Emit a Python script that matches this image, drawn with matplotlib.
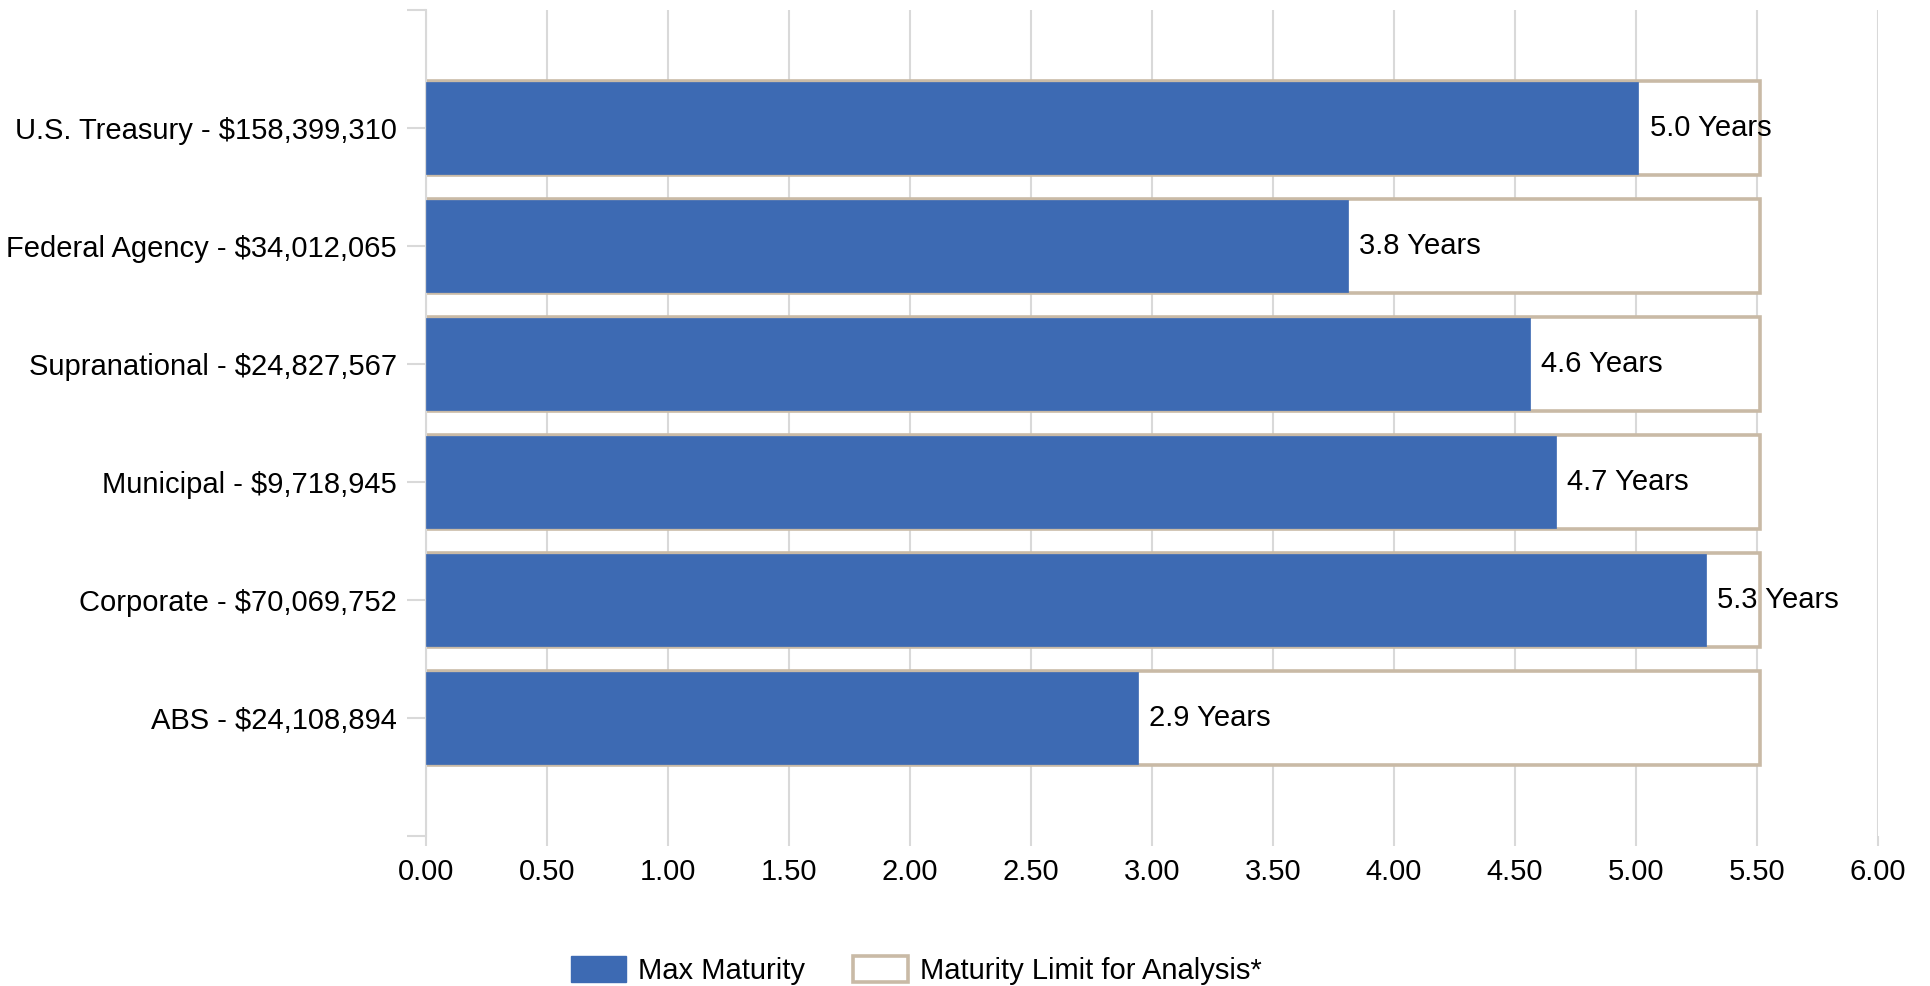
import matplotlib.pyplot as plt
from matplotlib.patches import Patch

plt.rcParams['font.family'] = ['Liberation Sans', 'DejaVu Sans']

# categories and data
categorias = ['U.S. Treasury - $158,399,310', 'Federal Agency - $34,012,065',
              'Supranational - $24,827,567', 'Municipal - $9,718,945',
              'Corporate - $70,069,752', 'ABS - $24,108,894']
max_maturity = [5.01, 3.81, 4.56, 4.67, 5.29, 2.94]
limite_analise = [5.51, 5.51, 5.51, 5.51, 5.51, 5.51]
xticks = [0.0, 0.5, 1.0, 1.5, 2.0, 2.5, 3.0, 3.5, 4.0, 4.5, 5.0, 5.5, 6.0]

AZUL = '#3d6ab3'
BEGE = '#c9baa6'
CINZA = '#d9d9d9'
FS = 21

fig = plt.figure(figsize=(19.31, 9.86), dpi=100)
ax = fig.add_axes([0.2206, 0.152, 0.752, 0.838])

pos = list(range(len(categorias)))

# outlined limit bars behind, max maturity on top
ax.barh(pos, limite_analise, height=0.8, color='white', edgecolor=BEGE,
        linewidth=2.6, zorder=2)
ax.barh(pos, max_maturity, height=0.8 - 0.02, color=AZUL, edgecolor=AZUL,
        linewidth=0.5, zorder=3)

for y, v in zip(pos, max_maturity):
    ax.annotate(f'{v:.1f} Years', xy=(v, y), xytext=(8, 0),
                textcoords='offset points', va='center', ha='left',
                fontsize=FS, color='black', zorder=4)

ax.set_xlim(0, 6)
ax.set_ylim(6, -1)
ax.set_xticks(xticks)
ax.set_xticklabels([f'{t:.2f}' for t in xticks], fontsize=FS)
ax.set_yticks([-1] + pos + [6])
ax.set_yticklabels([''] + categorias + [''], fontsize=FS)

ax.grid(axis='x', color=CINZA, linewidth=1.5, zorder=0)
ax.set_axisbelow(True)
for lado in ['top', 'right', 'bottom']:
    ax.spines[lado].set_visible(False)
ax.spines['left'].set_color(CINZA)
ax.spines['left'].set_linewidth(1.5)
ax.tick_params(axis='y', length=14, width=1.5, color=CINZA, pad=7)
ax.tick_params(axis='x', length=7, width=1.5, color=CINZA, pad=9)

handles = [Patch(facecolor=AZUL, edgecolor=AZUL, label='Max Maturity'),
           Patch(facecolor='white', edgecolor=BEGE, linewidth=2.6,
                 label='Maturity Limit for Analysis*')]
fig.legend(handles=handles, loc='center', bbox_to_anchor=(0.4745, 0.016),
           ncol=2, frameon=False, fontsize=FS, handlelength=1.9,
           handleheight=1.0, columnspacing=1.65, handletextpad=0.4)

fig.savefig('out.png', dpi=100)
